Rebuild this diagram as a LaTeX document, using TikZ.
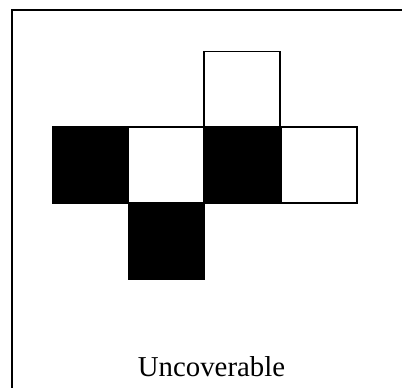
\documentclass[tikz,border=0pt]{standalone}
\usepackage{fontspec}
\setmainfont{Liberation Serif}
\begin{document}
\begin{tikzpicture}[x=1pt,y=-1pt,
  cell/.style={draw=black,line width=1.2pt,minimum size=76pt,inner sep=0pt,outer sep=0pt,anchor=north west},
  blk/.style={cell,fill=black},
  wht/.style={cell,fill=white}]
\useasboundingbox (0,0) rectangle (402,388);
\begin{scope}
\clip (0,0) rectangle (402,388);
\draw[line width=2.2pt] (12,10) rectangle (420,420);
\end{scope}
\node[wht] (top) at (204,51.5) {};
\node[blk] (c1) at (52.5,127) {};
\node[wht] (c2) at (128.5,127) {};
\node[blk] (c3) at (204,127) {};
\node[wht] (c4) at (281,127) {};
\node[blk] (bot) at (128.5,203.5) {};
\node[font=\fontsize{28.8}{34}\selectfont,anchor=base,inner sep=0pt] (lab) at (211.5,376) {Uncoverable};
\end{tikzpicture}
\end{document}
